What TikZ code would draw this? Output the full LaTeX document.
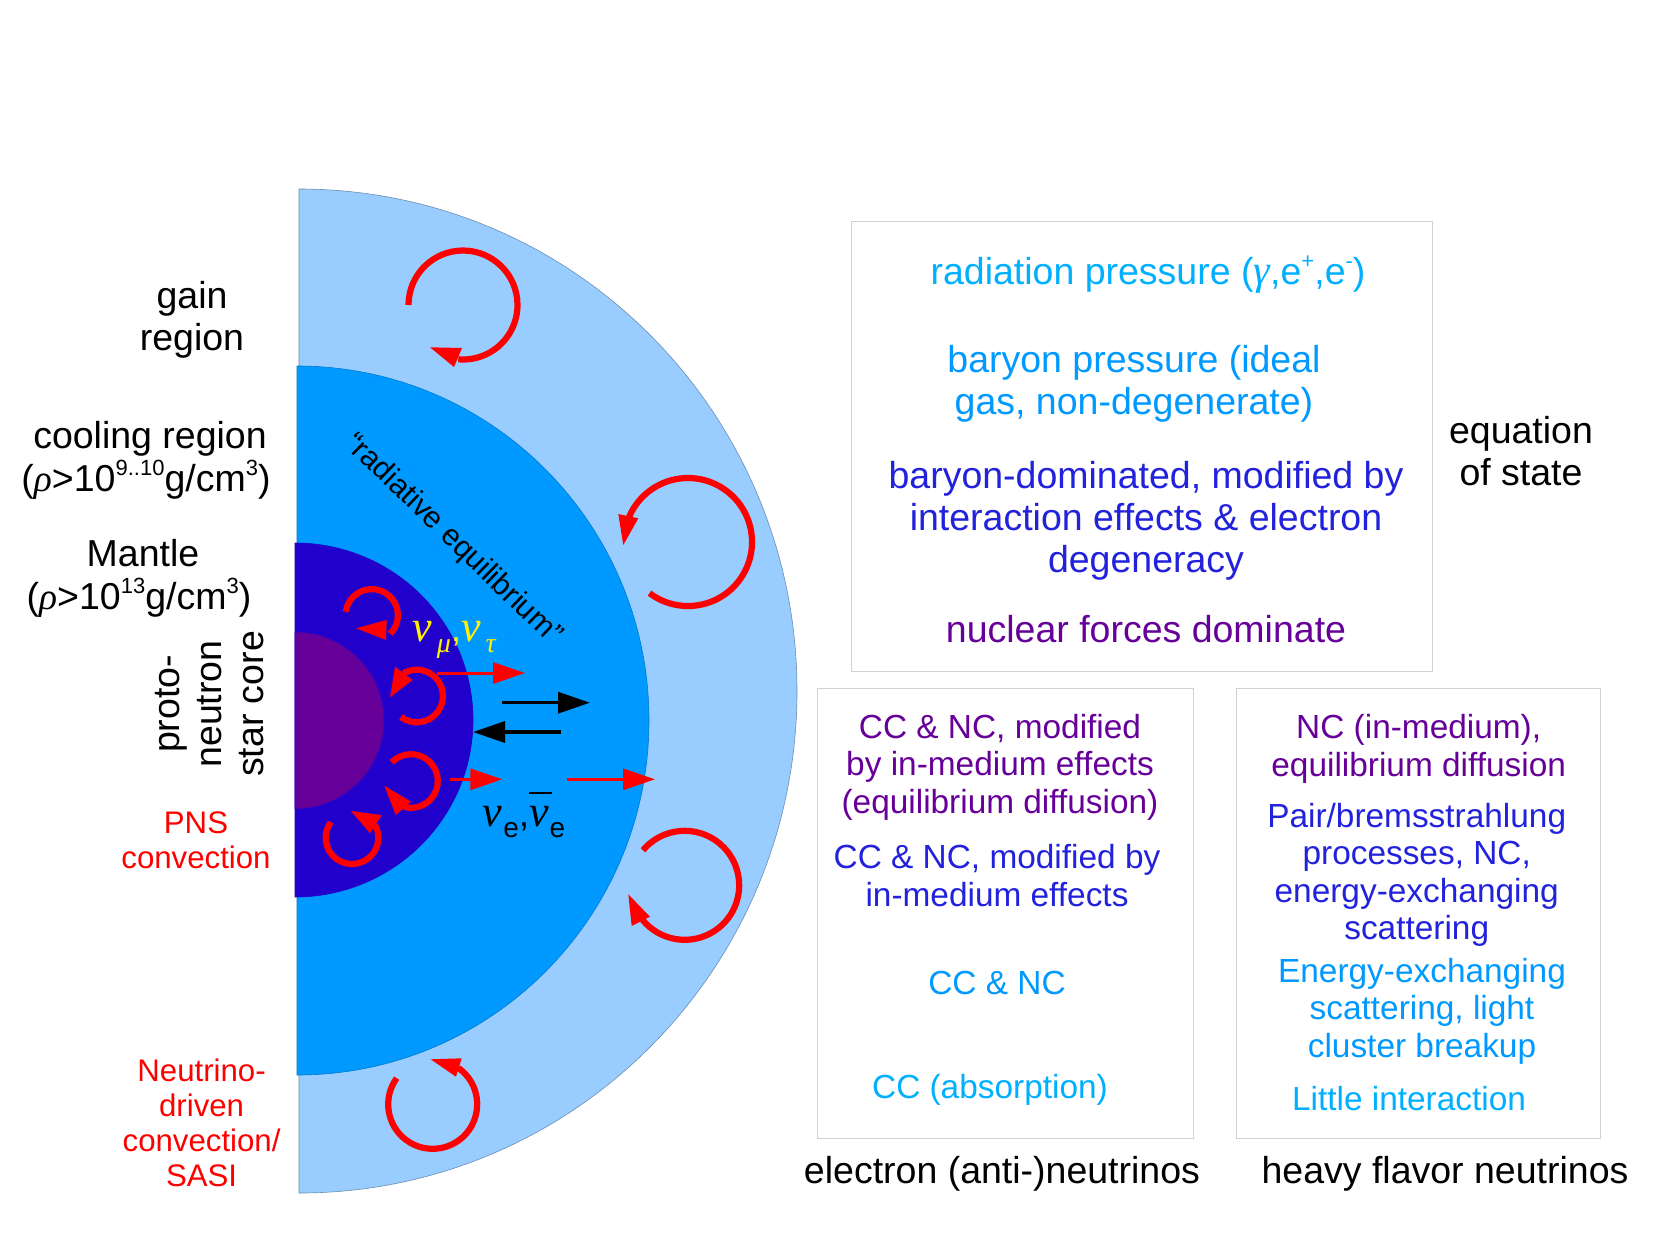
\documentclass[tikz,border=0pt]{standalone}
\usepackage{fontspec}
\setmainfont{Liberation Sans}
\newfontfamily\grk{Liberation Serif}
\usetikzlibrary{arrows.meta}
\definecolor{gainfill}{HTML}{99CCFF}
\definecolor{coolfill}{HTML}{0099FF}
\definecolor{mantlefill}{HTML}{2200CC}
\definecolor{corefill}{HTML}{660099}
\definecolor{skytext}{HTML}{00B0FF}
\definecolor{azuretext}{HTML}{0099FF}
\definecolor{bluetext}{HTML}{2222DD}
\definecolor{purpletext}{HTML}{660099}
\newcommand\gk[1]{{\grk\itshape #1}}
\newcommand\hiup[1]{\raisebox{0.43em}{\fontsize{22}{22}\selectfont #1}}
\newcommand\swirl[5]{\draw[swirl] (#1,#2) ++(#4:#3) arc[start angle=#4,end angle=#5,radius=#3];}
\tikzset{
  x=1pt,y=-1pt,
  lbl/.style={inner sep=0pt,align=center,font=\fontsize{37.5}{42}\selectfont},
  widelbl/.style={inner sep=0pt,align=center,font=\fontsize{37.5}{43.5}\selectfont},
  midlbl/.style={inner sep=0pt,align=center,font=\fontsize{33.4}{37.5}\selectfont},
  redlbl/.style={inner sep=0pt,align=center,text=red,font=\fontsize{31.2}{35}\selectfont},
  framebox/.style={draw=black!18,line width=1.2pt,fill=white},
  swirl/.style={draw=red,line width=6.2pt},
  redarrow/.style={draw=red,line width=3pt,-{Triangle[length=32pt,width=21pt,fill=red]}},
  blackarrow/.style={draw=black,line width=3.4pt,-{Triangle[length=32pt,width=21pt,fill=black]}},
}
\begin{document}
\begin{tikzpicture}
\useasboundingbox (0,0) rectangle (1655,1240);
\fill[white] (0,0) rectangle (1655,1240);

% nested half discs of the star
\draw[fill=gainfill,draw=gainfill!70!black,line width=0.6pt] (299,189) arc[start angle=-90,end angle=90,x radius=498,y radius=502] -- cycle;
\draw[fill=coolfill,draw=coolfill!80!black,line width=0.6pt] (297,366) arc[start angle=-90,end angle=90,x radius=352,y radius=354.5] -- cycle;
\draw[fill=mantlefill,draw=mantlefill,line width=0.6pt] (295,543) arc[start angle=-90,end angle=90,x radius=178,y radius=177] -- cycle;
\draw[fill=corefill,draw=mantlefill!70!corefill,line width=0.6pt] (295,632) arc[start angle=-90,end angle=90,x radius=89,y radius=88.5] -- cycle;

% large convection cells in the gain region
\swirl{463}{305}{54.5}{180}{455}
\fill[red] (430,347.3) -- (462,348) -- (454,367) -- cycle;
\swirl{688}{542}{64}{127}{-157}
\fill[red] (623.3,545) -- (618.3,514) -- (638.3,518.3) -- cycle;
\swirl{684.7}{885.3}{54.5}{-140}{141}
\fill[red] (628.3,894.3) -- (631.7,926) -- (650,916.7) -- cycle;
\swirl{432.7}{1104.3}{44.5}{216}{-55}
\fill[red] (430.7,1059.3) -- (461.7,1058.3) -- (456,1076.7) -- cycle;

% small convection cells in the mantle
\swirl{371.7}{615.3}{26.2}{188}{405}
\fill[red] (356,628.3) -- (386.7,620) -- (386,640) -- cycle;
\swirl{416.7}{696}{26.3}{127}{-120}
\fill[red] (390,697.3) -- (395,666.7) -- (412.7,680) -- cycle;
\swirl{411}{781}{26.8}{-136}{105}
\fill[red] (384.3,785.7) -- (395.7,815) -- (411,801.7) -- cycle;
\swirl{352}{837.7}{26.3}{216}{-30}
\fill[red] (351,811) -- (381.7,815) -- (370,833.3) -- cycle;

% neutrino flux arrows
\coordinate (muA) at (436.7,673);   \coordinate (muB) at (525,673);
\coordinate (upA) at (502,702.7);   \coordinate (upB) at (590,702.7);
\coordinate (dnA) at (561,732);     \coordinate (dnB) at (473,732);
\coordinate (eA)  at (450,779.3);   \coordinate (eB)  at (502.3,779.3);
\coordinate (fA)  at (567.3,779.3); \coordinate (fB)  at (655,779.3);
\draw[redarrow] (muA) -- (muB);
\draw[blackarrow] (upA) -- (upB);
\draw[blackarrow] (dnA) -- (dnB);
\draw[redarrow] (eA) -- (eB);
\draw[redarrow] (fA) -- (fB);

% neutrino species
\node[inner sep=0pt,text=yellow,font=\fontsize{36}{40}\selectfont] (numu) at (454,640)
  {{\fontsize{44}{44}\selectfont\gk{ν}}\kern5pt\raisebox{-0.32em}{\fontsize{28}{28}\selectfont\gk{μ}},{\fontsize{44}{44}\selectfont\gk{ν}}\kern5pt\raisebox{-0.32em}{\fontsize{28}{28}\selectfont\gk{τ}}};
\node[inner sep=0pt,font=\fontsize{36}{40}\selectfont] (nue) at (524,815)
  {{\fontsize{44}{44}\selectfont\gk{ν}}\kern1pt\raisebox{-0.3em}{\fontsize{28}{28}\selectfont e},\rlap{\raisebox{0.92em}{\rule{23pt}{1.3pt}}}{\fontsize{44}{44}\selectfont\gk{ν}}\kern1pt\raisebox{-0.3em}{\fontsize{28}{28}\selectfont e}};

% region labels
\node[lbl] (gain) at (192,320) {gain\\region};
\node[widelbl] (cool) at (150,460.5) {cooling region\\(\gk{ρ}>10\hiup{9..10}g/cm\hiup{3})\kern8pt};
\node[widelbl] (mant) at (143,578.5) {Mantle\\(\gk{ρ}>10\hiup{13}g/cm\hiup{3})\kern8pt};
\node[lbl,rotate=90] (pns) at (210,704) {proto-\\neutron\\star core};
\node[redlbl] (pnsconv) at (196,840) {PNS\\convection};
\node[redlbl] (ndc) at (201.6,1123) {Neutrino-\\driven\\convection/\\SASI};
\node[inner sep=0pt,rotate=-44,font=\fontsize{30.2}{36}\selectfont] (rad) at (453,540) {“radiative equilibrium”};

% equation of state panel
\node[framebox,minimum width=581pt,minimum height=450pt,anchor=north west,inner sep=0pt] (eosbox) at (851,221) {};
\node[lbl,text=skytext] (eos1) at (1148,275) {radiation pressure ({\fontsize{42}{42}\selectfont\gk{γ}},e\hiup{+},e\hiup{-})};
\node[lbl,text=azuretext] (eos2) at (1134,384) {baryon pressure (ideal\\gas, non-degenerate)};
\node[lbl,text=bluetext] (eos3) at (1146,521) {baryon-dominated, modified by\\interaction effects \& electron\\degeneracy};
\node[lbl,text=purpletext] (eos4) at (1146,629) {nuclear forces dominate};
\node[lbl] (eoslab) at (1521,451) {equation\\of state};

% electron neutrino panel
\node[framebox,minimum width=376pt,minimum height=450pt,anchor=north west,inner sep=0pt] (ebox) at (817,688) {};
\node[midlbl,text=purpletext] (e1) at (1000,767) {CC \& NC, modified\\by in-medium effects\\(equilibrium diffusion)};
\node[midlbl,text=bluetext] (e2) at (997,875.7) {CC \& NC, modified by\\in-medium effects};
\node[midlbl,text=azuretext] (e3) at (997,983.2) {CC \& NC};
\node[midlbl,text=skytext] (e4) at (990,1090) {CC (absorption)};
\node[lbl] (elab) at (1002,1173.7) {electron (anti-)neutrinos};

% heavy flavour neutrino panel
\node[framebox,minimum width=364pt,minimum height=450pt,anchor=north west,inner sep=0pt] (hbox) at (1236,688) {};
\node[midlbl,text=purpletext] (h1) at (1418.7,748.7) {NC (in-medium),\\equilibrium diffusion};
\node[midlbl,text=bluetext] (h2) at (1416.7,875) {Pair/bremsstrahlung\\processes, NC,\\energy-exchanging\\scattering};
\node[midlbl,text=azuretext] (h3) at (1422,1011) {Energy-exchanging\\scattering, light\\cluster breakup};
\node[midlbl,text=skytext] (h4) at (1409,1099) {Little interaction};
\node[lbl] (hlab) at (1445,1173.5) {heavy flavor neutrinos};
\end{tikzpicture}
\end{document}
